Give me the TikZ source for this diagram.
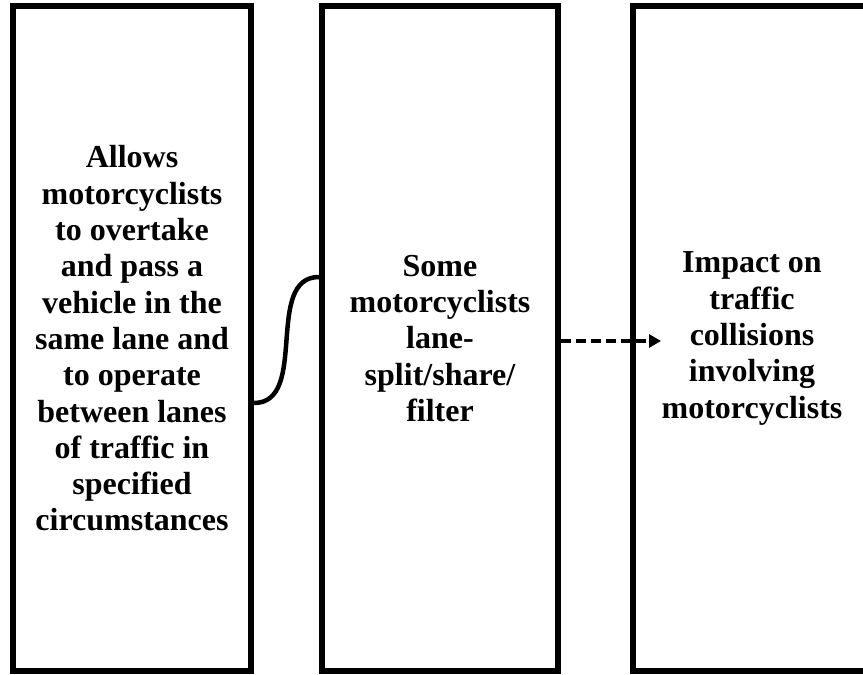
\documentclass[tikz,border=0pt]{standalone}
\usepackage{fontspec}
\setmainfont{Liberation Serif}
\usetikzlibrary{arrows.meta}
\begin{document}
\begin{tikzpicture}[x=1pt,y=1pt,
  panel/.style={draw=black, line width=6pt, rectangle, minimum height=665pt,
    align=center, font=\bfseries\fontsize{32pt}{36.3pt}\selectfont, inner sep=0pt},
  link/.style={line width=4.5pt, black},
  dlink/.style={line width=4pt, black, dash pattern=on 10pt off 5pt, -{Triangle[length=12pt,width=13pt]}}]
\useasboundingbox (0,0) rectangle (863,675);
\node[panel, minimum width=238pt] (b1) at (132,336.5)
  {Allows\\motorcyclists\\to overtake\\and pass a\\vehicle in the\\same lane and\\to operate\\between lanes\\of traffic in\\specified\\circumstances};
\node[panel, minimum width=236pt] (b2) at (440,336.5)
  {Some\\motorcyclists\\lane-\\split/share/\\filter};
\node[panel, minimum width=238pt] (b3) at (752,336.5)
  {Impact on\\traffic\\collisions\\involving\\motorcyclists};
\coordinate (s1) at ([yshift=-64.5pt]b1.east);
\coordinate (e1) at ([yshift=61.5pt]b2.west);
\draw[link] (s1) to[out=0,in=180,looseness=1.0] (e1);
\coordinate (s2) at ([yshift=-2.5pt]b2.east);
\coordinate (e2) at ([xshift=31pt,yshift=-2.5pt]b3.west);
\draw[dlink] (s2) -- (e2);
\end{tikzpicture}
\end{document}
